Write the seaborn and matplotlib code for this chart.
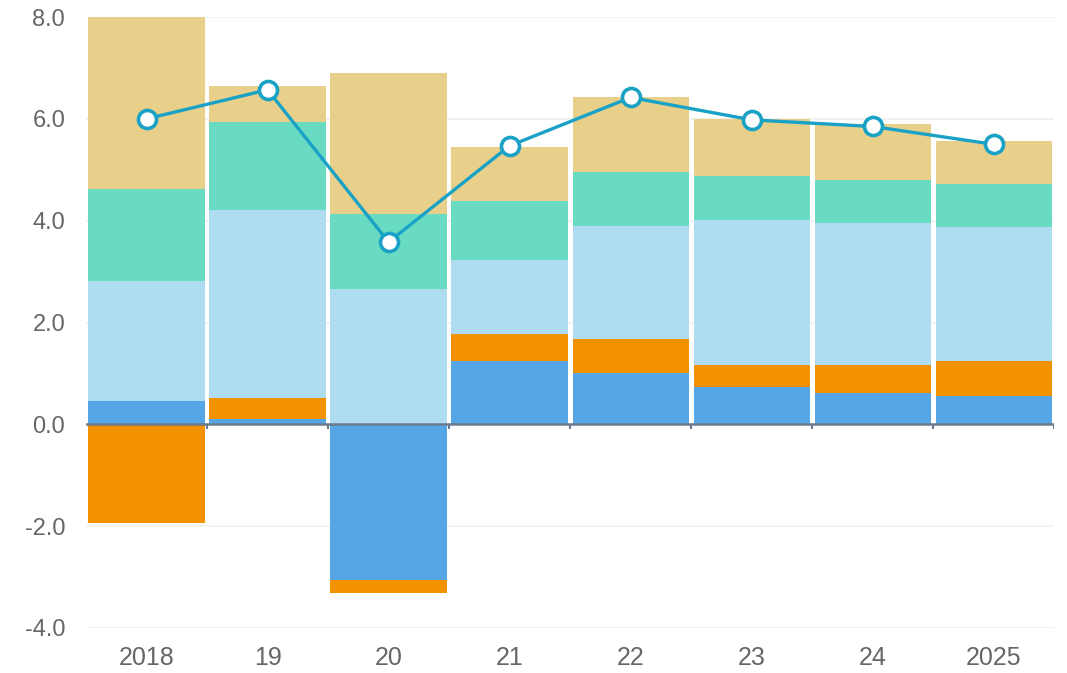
import numpy as np
import pandas as pd
import matplotlib
matplotlib.use("Agg")
import matplotlib.pyplot as plt
import seaborn as sns

categories = ["2018", "19", "20", "21", "22", "23", "24", "2025"]
blue = [0.45, 0.10, -3.05, 1.24, 1.01, 0.73, 0.62, 0.56]
orange = [-1.93, 0.41, -0.27, 0.53, 0.66, 0.44, 0.55, 0.68]
light_blue = [2.36, 3.70, 2.66, 1.46, 2.23, 2.84, 2.79, 2.64]
teal = [1.82, 1.73, 1.47, 1.16, 1.05, 0.87, 0.84, 0.85]
tan = [3.37, 0.71, 2.78, 1.06, 1.47, 1.12, 1.10, 0.83]
total = [6.00, 6.57, 3.58, 5.47, 6.42, 5.98, 5.85, 5.50]
y_ticks = [-4.0, -2.0, 0.0, 2.0, 4.0, 6.0, 8.0]

series = [
    ("blue", blue, "#56a5e5"),
    ("orange", orange, "#f39200"),
    ("light_blue", light_blue, "#aedcf0"),
    ("teal", teal, "#68dbc2"),
    ("tan", tan, "#e8d08a"),
]

sns.set_theme(style="white")
plt.rcParams["font.family"] = ["Liberation Sans", "DejaVu Sans"]

fig = plt.figure(figsize=(10.67, 6.73), dpi=100)
ax = fig.add_axes([0.0806, 0.0669, 0.9074, 0.9078])

pos_base = np.zeros(len(categories))
neg_base = np.zeros(len(categories))
for name, vals, col in series:
    v = np.array(vals, dtype=float)
    bottoms = np.where(v >= 0, pos_base, neg_base)
    sns.barplot(x=categories, y=v, bottom=bottoms, color=col, width=0.96,
                edgecolor="none", linewidth=0, saturation=1, ax=ax, zorder=2)
    pos_base = pos_base + np.where(v >= 0, v, 0)
    neg_base = neg_base + np.where(v < 0, v, 0)

sns.pointplot(x=categories, y=total, color="#1aa2c6", markers="o",
              linestyles="-", ax=ax, zorder=5)
for ln in ax.lines:
    ln.set_linewidth(2.4)
    ln.set_markersize(13)
    ln.set_markerfacecolor("white")
    ln.set_markeredgecolor("#1aa2c6")
    ln.set_markeredgewidth(2.6)
    ln.set_zorder(5)

# zero axis line with tick marks at category boundaries
ax.axhline(0, color="#6b7b8c", linewidth=1.8, zorder=4)
for b in np.arange(len(categories)) + 0.5:
    ax.plot([b, b], [0, -0.1], color="#6b7b8c", linewidth=1.5, zorder=4,
            solid_capstyle="butt")

ax.set_xlim(-0.5, len(categories) - 0.5)
ax.set_ylim(-4, 8)
ax.set_yticks(y_ticks)
ax.set_yticklabels([f"{t:.1f}" for t in y_ticks])
ax.yaxis.grid(True, color="#f0f0f0", linewidth=1.2, zorder=0)
ax.xaxis.grid(False)
ax.set_axisbelow(True)
for s in ax.spines.values():
    s.set_visible(False)
ax.tick_params(axis="y", length=0, pad=15, labelsize=17, labelcolor="#666666")
ax.tick_params(axis="x", length=0, pad=13, labelsize=18, labelcolor="#666666")
ax.set_xlabel("")
ax.set_ylabel("")

fig.savefig("out.png", dpi=100, facecolor="white")
